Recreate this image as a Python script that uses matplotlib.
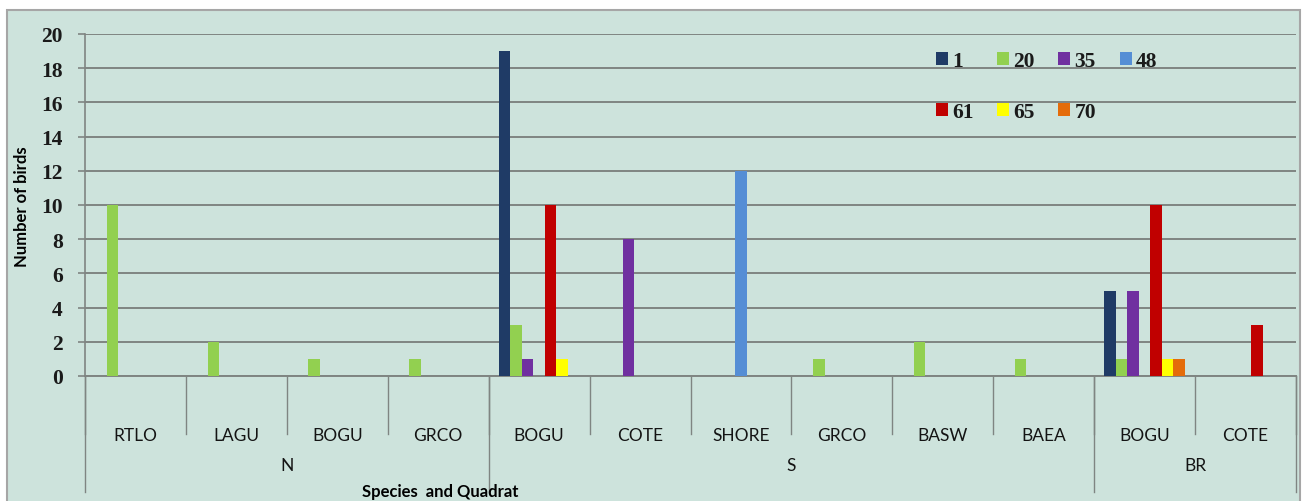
import matplotlib
matplotlib.use("Agg")
import matplotlib.pyplot as plt
import matplotlib.transforms as mtransforms
from matplotlib.patches import Rectangle
import numpy as np

quadrats = ["N", "S", "BR"]
species = [["RTLO", "LAGU", "BOGU", "GRCO"],
           ["BOGU", "COTE", "SHORE", "GRCO", "BASW", "BAEA"],
           ["BOGU", "COTE"]]
series_names = ["1", "20", "35", "48", "61", "65", "70"]
series_colors = ["#1f3b66", "#92d050", "#7030a0", "#558ed5", "#c00000", "#ffff00", "#e46c0a"]

# one list per series, values follow the 12 categories in order
s1  = [0, 0, 0, 0, 19, 0, 0, 0, 0, 0, 5, 0]
s20 = [10, 2, 1, 1, 3, 0, 0, 1, 2, 1, 1, 0]
s35 = [0, 0, 0, 0, 1, 8, 0, 0, 0, 0, 5, 0]
s48 = [0, 0, 0, 0, 0, 0, 12, 0, 0, 0, 0, 0]
s61 = [0, 0, 0, 0, 10, 0, 0, 0, 0, 0, 10, 3]
s65 = [0, 0, 0, 0, 1, 0, 0, 0, 0, 0, 1, 0]
s70 = [0, 0, 0, 0, 0, 0, 0, 0, 0, 0, 1, 0]
series_values = [s1, s20, s35, s48, s61, s65, s70]

bg = "#cde3dc"
grid_col = "#7f8582"
sans = "Lato"
serif = "Liberation Serif"
W, H = 1303, 502
fig = plt.figure(figsize=(W / 100, H / 100), dpi=100, facecolor="white")
fig.patches.append(Rectangle((7 / W, -0.01), (1300 - 7) / W, 1 - 11 / H + 0.01,
                             transform=fig.transFigure, facecolor=bg,
                             edgecolor="#a6a6a6", linewidth=1.5, zorder=-10))

left, right = 85 / W, 1296 / W
bottom, top = 1 - 377 / H, 1 - 35 / H
ax = fig.add_axes([left, bottom, right - left, top - bottom])
ax.set_facecolor("none")

all_species = [s for grp in species for s in grp]
n_cat = len(all_species)
x = np.arange(n_cat)
n_ser = len(series_names)
bw = 0.8 / n_ser

handles = []
for i, (name, vals, col) in enumerate(zip(series_names, series_values, series_colors)):
    b = ax.bar(x - 0.4 + bw * (i + 0.5), vals, width=bw, color=col, label=name, zorder=3)
    handles.append(b)

ax.set_xlim(-0.5, n_cat - 0.5)
ax.set_ylim(0, 20)
ax.set_yticks(range(0, 21, 2))
ax.yaxis.grid(True, color=grid_col, linewidth=1.4, zorder=1)
ax.tick_params(axis="y", length=5, width=1.2, color=grid_col, pad=11,
               labelsize=15.5)
for t in ax.get_yticklabels():
    t.set_family(serif)
    t.set_fontweight("bold")
    t.set_color("#1a1a1a")
ax.set_xticks([])
for sp in ["top", "right"]:
    ax.spines[sp].set_visible(False)
ax.spines["left"].set_color(grid_col)
ax.spines["bottom"].set_color(grid_col)
ax.spines["left"].set_linewidth(1.2)
ax.spines["bottom"].set_linewidth(1.4)

# hierarchical category axis
ah = 377 - 35
trans = mtransforms.blended_transform_factory(ax.transData, ax.transAxes)
y_minor = -(435 - 377) / ah
y_major = -(493 - 377) / ah
line_kw = dict(transform=trans, color=grid_col, linewidth=1.0, clip_on=False)
for k in range(n_cat + 1):
    ax.plot([k - 0.5, k - 0.5], [0, y_minor], **line_kw)
pos = 0
for q, grp in zip(quadrats, species):
    ax.plot([pos - 0.5, pos - 0.5], [0, y_major], **line_kw)
    for j, s in enumerate(grp):
        ax.text(pos + j, -(436 - 377) / ah, s, transform=trans, ha="center", va="center",
                fontsize=12.5, family=sans, color="#141414")
    ax.text(pos + (len(grp) - 1) / 2, -(466 - 377) / ah, q, transform=trans,
            ha="center", va="center", fontsize=12.5, family=sans, color="#141414")
    pos += len(grp)
ax.plot([pos - 0.5, pos - 0.5], [0, y_major], **line_kw)

fig.text(440 / W, 1 - 492 / H, "Species  and Quadrat", ha="center", va="center",
         fontsize=12, fontweight="bold", family=sans)
fig.text(22 / W, 1 - 207 / H, "Number of birds", ha="center", va="center",
         rotation=90, fontsize=12, fontweight="bold", family=sans)

order = [0, 4, 1, 5, 2, 6, 3]
leg = ax.legend([handles[i] for i in order], [series_names[i] for i in order],
                ncol=4, loc="upper left",
                bbox_to_anchor=((925 - 85) / (1296 - 85), 1 - (41 - 35) / ah),
                frameon=False, borderpad=0, handlelength=0.55, handleheight=0.55,
                handletextpad=0.2, columnspacing=1.1, labelspacing=1.45,
                prop={"family": serif, "size": 15.5, "weight": "bold"})
for t in leg.get_texts():
    t.set_color("#1a1a1a")

fig.savefig("out.png", dpi=100, facecolor="white")
